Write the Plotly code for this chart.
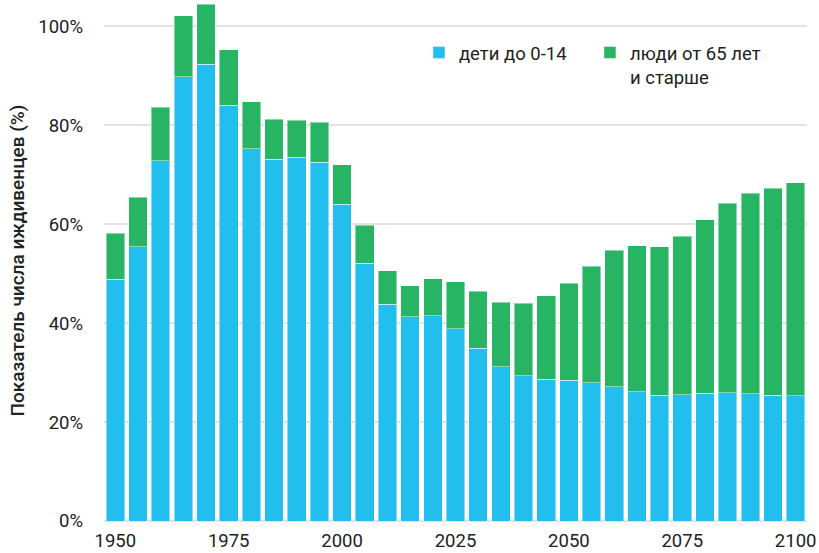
import plotly.graph_objects as go

years = list(range(1950, 2101, 5))
total = [58.2, 65.4, 83.6, 102.1, 104.4, 95.2, 84.7, 81.2, 81.0, 80.6, 72.0, 59.8, 50.6, 47.5, 49.0, 48.4,
         46.4, 44.2, 44.0, 45.5, 48.1, 51.5, 54.7, 55.6, 55.4, 57.6, 60.9, 64.2, 66.2, 67.3, 68.4]
children = [48.9, 55.4, 72.8, 89.8, 92.3, 84.0, 75.2, 73.1, 73.5, 72.5, 64.0, 52.1, 43.8, 41.3, 41.5, 38.9,
            34.9, 31.2, 29.4, 28.7, 28.4, 27.9, 27.1, 26.1, 25.4, 25.5, 25.8, 25.9, 25.7, 25.4, 25.3]
elderly = [round(t - c, 1) for t, c in zip(total, children)]

x_ticks = [1950, 1975, 2000, 2025, 2050, 2075, 2100]
y_ticks = [0, 20, 40, 60, 80, 100]
y_tick_labels = ["0%", "20%", "40%", "60%", "80%", "100%"]

BLUE = "#21BEEE"
GREEN = "#27B463"

fig = go.Figure()
fig.add_trace(go.Bar(x=years, y=children, name="дети до 0-14",
                     marker=dict(color=BLUE, line=dict(color="rgba(255,255,255,0.45)", width=1))))
fig.add_trace(go.Bar(x=years, y=elderly, name="люди от 65 лет<br>и старше",
                     marker=dict(color=GREEN, line=dict(color="rgba(255,255,255,0.45)", width=1))))

fig.update_layout(
    barmode="stack",
    bargap=0.18,
    width=819, height=553,
    margin=dict(l=104, r=12, t=0, b=32, autoexpand=False),
    paper_bgcolor="white", plot_bgcolor="white",
    font=dict(family="Roboto, sans-serif", size=18, color="#222222"),
    legend=dict(orientation="h", x=0.448, y=0.935, xanchor="left", yanchor="top",
                valign="top", entrywidth=126, entrywidthmode="pixels",
                font=dict(size=18.5, color="#222222"), itemwidth=30,
                bgcolor="rgba(0,0,0,0)", traceorder="normal"),
    xaxis=dict(range=[1947.5, 2102.5], tickmode="array", tickvals=x_ticks,
               showgrid=False, showline=False, zeroline=False, ticks="",
               ticklabelstandoff=6, tickfont=dict(size=18.5)),
    yaxis=dict(range=[0, 105.3], tickmode="array", tickvals=y_ticks, ticktext=y_tick_labels,
               showgrid=True, gridcolor="#e3e3e3", gridwidth=1.5, zeroline=True,
               zerolinecolor="#e3e3e3", zerolinewidth=2, ticks="", ticklabelstandoff=20,
               tickfont=dict(size=18.5),
               title=dict(text="Показатель числа иждивенцев (%)", standoff=8,
                          font=dict(size=19, color="#222222", weight=500))),
)

fig.write_html("out.html", config={"displayModeBar": False},
               post_script="document.body.style.margin='0';")
